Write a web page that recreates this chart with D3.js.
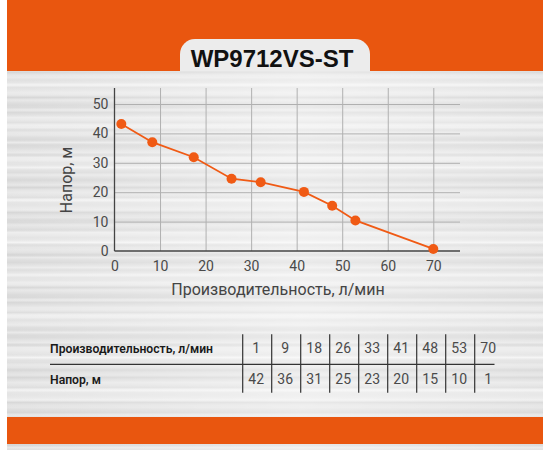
<!DOCTYPE html>
<html>
<head>
<meta charset="utf-8">
<script src="https://cdn.jsdelivr.net/npm/d3@7"></script>
<style>
    body { margin: 0; background: #fff; }
    svg { display: block; }
    text { font-family: Roboto, "Noto Sans", sans-serif; }
</style>
</head>
<body>
<svg id="chart" width="550" height="450"></svg>
<script>
// Curve points
const flowPoints = [1.5, 8.3, 17.4, 25.7, 32.1, 41.6, 47.8, 52.9, 70];
const headPoints = [43.2, 37, 31.9, 24.6, 23.4, 20.1, 15.4, 10.4, 0.7];

// Table values
const tableFlow = [1, 9, 18, 26, 33, 41, 48, 53, 70];
const tableHead = [42, 36, 31, 25, 23, 20, 15, 10, 1];
const tableLabels = ["Производительность, л/мин", "Напор, м"];

const xTicks = [0, 10, 20, 30, 40, 50, 60, 70];
const yTicks = [0, 10, 20, 30, 40, 50];

const title = "WP9712VS-ST";
const xTitle = "Производительность, л/мин";
const yTitle = "Напор, м";

const orange = "#e9560f";
const dotColor = "#f05a14";

const svg = d3.select("#chart");
const defs = svg.append("defs");

// Brushed metal look - fixed streak pattern
const metal = defs.append("linearGradient")
    .attr("id", "metal")
    .attr("x1", 0).attr("y1", 0).attr("x2", 0).attr("y2", 1);
const streaks = d3.range(0, 181);
streaks.forEach(i => {
    const g = Math.round(226 + 9 * Math.sin(i * 1.9) + 6 * Math.sin(i * 0.41) + 4 * Math.cos(i * 3.3));
    metal.append("stop")
        .attr("offset", (i / 180 * 100) + "%")
        .attr("stop-color", d3.rgb(g, g, g));
});

const sheen = defs.append("linearGradient")
    .attr("id", "sheen")
    .attr("x1", 0).attr("y1", 0).attr("x2", 1).attr("y2", 0);
sheen.append("stop").attr("offset", "0%").attr("stop-color", "#fff").attr("stop-opacity", 0.05);
sheen.append("stop").attr("offset", "55%").attr("stop-color", "#fff").attr("stop-opacity", 0.45);
sheen.append("stop").attr("offset", "100%").attr("stop-color", "#fff").attr("stop-opacity", 0.15);

svg.append("rect").attr("x", 7).attr("y", 0).attr("width", 536).attr("height", 450).attr("fill", "url(#metal)");
svg.append("rect").attr("x", 7).attr("y", 0).attr("width", 536).attr("height", 450).attr("fill", "url(#sheen)");

// Header band and tab
svg.append("rect").attr("x", 7).attr("y", 0).attr("width", 536).attr("height", 71).attr("fill", orange);
svg.append("rect").attr("x", 7).attr("y", 417).attr("width", 536).attr("height", 27).attr("fill", orange);

const tab = d3.path();
tab.moveTo(180, 71);
tab.lineTo(180, 54);
tab.arcTo(180, 39, 195, 39, 15);
tab.lineTo(355, 39);
tab.arcTo(370, 39, 370, 54, 15);
tab.lineTo(370, 71);
tab.closePath();
svg.append("path").attr("d", tab.toString()).attr("fill", "#ececec");

svg.append("text")
    .attr("x", 272).attr("y", 67)
    .attr("text-anchor", "middle")
    .style("font-family", "'Liberation Sans', Arial, sans-serif")
    .style("font-weight", "bold")
    .style("font-size", "24px")
    .attr("fill", "#111")
    .text(title);

// Chart area
const plot = { left: 114.5, right: 460, top: 88, bottom: 251 };
const x = d3.scaleLinear().domain([0, 70]).range([plot.left, 433.3]);
const y = d3.scaleLinear().domain([0, 50]).range([plot.bottom, 104]);

const grid = svg.append("g");
grid.append("g")
    .attr("transform", `translate(0,${plot.bottom})`)
    .call(d3.axisBottom(x).tickValues(xTicks.slice(1)).tickSize(-(plot.bottom - plot.top)).tickFormat(""))
    .call(g => g.select(".domain").remove());
grid.append("g")
    .attr("transform", `translate(${plot.left},0)`)
    .call(d3.axisLeft(y).tickValues(yTicks.slice(1)).tickSize(-(plot.right - plot.left)).tickFormat(""))
    .call(g => g.select(".domain").remove());
grid.selectAll("line").attr("stroke", "#b0b0b0").attr("stroke-width", 1);

const xAxis = svg.append("g")
    .attr("transform", `translate(0,${plot.bottom})`)
    .call(d3.axisBottom(x).tickValues(xTicks).tickSize(0).tickPadding(10));
xAxis.select(".domain").remove();

const yAxis = svg.append("g")
    .attr("transform", `translate(${plot.left},0)`)
    .call(d3.axisLeft(y).tickValues(yTicks).tickSize(0).tickPadding(6));
yAxis.select(".domain").remove();

svg.selectAll(".tick text")
    .style("font-size", "14px")
    .style("font-family", "Roboto, sans-serif")
    .attr("fill", "#4a4a4a");

svg.append("line")
    .attr("x1", plot.left).attr("x2", plot.right)
    .attr("y1", plot.bottom).attr("y2", plot.bottom)
    .attr("stroke", "#444").attr("stroke-width", 1.3);
svg.append("line")
    .attr("x1", plot.left).attr("x2", plot.left)
    .attr("y1", plot.top).attr("y2", plot.bottom)
    .attr("stroke", "#444").attr("stroke-width", 1.3);

svg.append("text")
    .attr("x", 278).attr("y", 294.5)
    .attr("text-anchor", "middle")
    .style("font-size", "16px")
    .attr("fill", "#444")
    .text(xTitle);

svg.append("text")
    .attr("transform", "translate(71.5,180) rotate(-90)")
    .attr("text-anchor", "middle")
    .style("font-size", "16px")
    .attr("fill", "#444")
    .text(yTitle);

const points = flowPoints.map((f, i) => ({ flow: f, head: headPoints[i] }));

svg.append("path")
    .datum(points)
    .attr("fill", "none")
    .attr("stroke", dotColor)
    .attr("stroke-width", 1.8)
    .attr("d", d3.line().x(d => x(d.flow)).y(d => y(d.head)));

svg.append("g")
    .selectAll("circle")
    .data(points)
    .join("circle")
    .attr("cx", d => x(d.flow))
    .attr("cy", d => y(d.head))
    .attr("r", 5)
    .attr("fill", dotColor);

// Table
const col = d3.scaleBand().domain(d3.range(tableFlow.length)).range([242.7, 242.7 + 29 * tableFlow.length]);
const rowY = [353.3, 383.5];

const table = svg.append("g");
table.append("line")
    .attr("x1", 50).attr("x2", 494.5)
    .attr("y1", 364.3).attr("y2", 364.3)
    .attr("stroke", "#333").attr("stroke-width", 1.2);

table.selectAll(".sep")
    .data(tableFlow)
    .join("line")
    .attr("class", "sep")
    .attr("x1", (d, i) => col(i)).attr("x2", (d, i) => col(i))
    .attr("y1", 334.3).attr("y2", 392.7)
    .attr("stroke", "#333").attr("stroke-width", 1.2);

table.selectAll(".label")
    .data(tableLabels)
    .join("text")
    .attr("class", "label")
    .attr("x", 50)
    .attr("y", (d, i) => rowY[i])
    .style("font-size", "12.2px")
    .style("font-weight", 600)
    .attr("fill", "#1a1a1a")
    .text(d => d);

[tableFlow, tableHead].forEach((row, r) => {
    table.selectAll(".row" + r)
        .data(row)
        .join("text")
        .attr("class", "row" + r)
        .attr("x", (d, i) => col(i) + col.bandwidth() / 2 - 1)
        .attr("y", rowY[r])
        .attr("text-anchor", "middle")
        .style("font-size", "14px")
        .attr("fill", "#4a4a4a")
        .text(d => d);
});
</script>
</body>
</html>
